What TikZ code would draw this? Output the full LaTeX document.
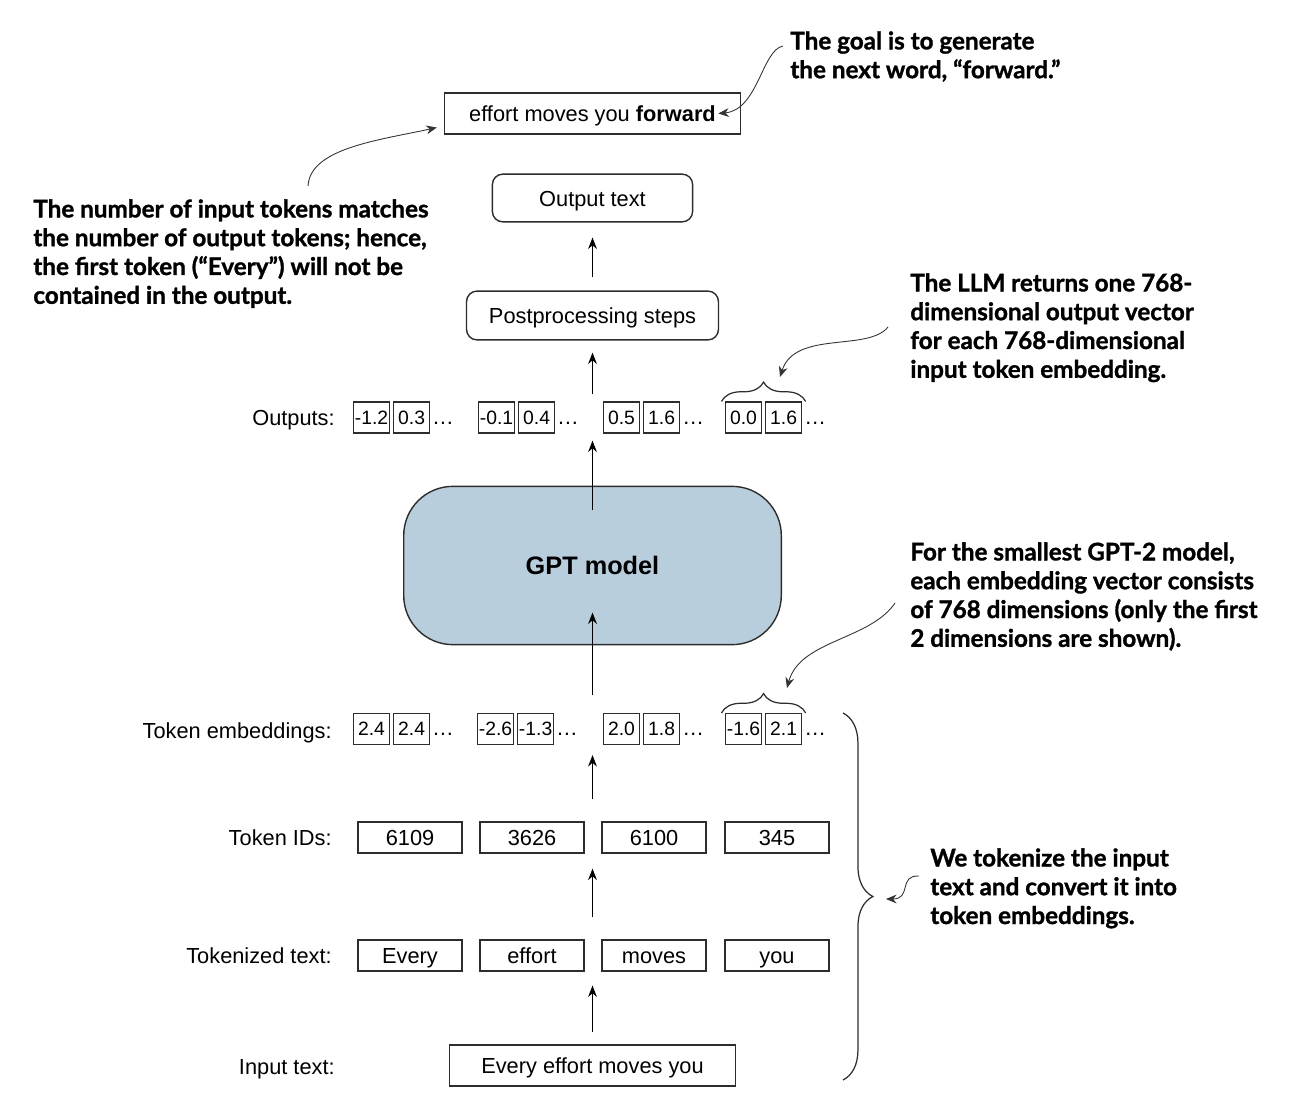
\documentclass[tikz,border=0pt]{standalone}
\usepackage{fontspec}
\setmainfont{Liberation Sans}
\newfontfamily\notefont{Lato}[BoldFeatures={FakeBold=1.2}]
\usetikzlibrary{positioning, arrows.meta, decorations.pathreplacing}

\definecolor{gptblue}{RGB}{185,206,220}
\definecolor{edge}{RGB}{45,45,45}

\tikzset{
  box/.style={draw=edge, line width=0.8pt, minimum width=59pt, minimum height=17.6pt, inner sep=0pt, text height=10pt, text depth=0.8pt, font=\fontsize{12.4}{15}\selectfont},
  roundbox/.style={box, rounded corners=6pt},
  gptbox/.style={draw=edge, line width=0.8pt, fill=gptblue, rounded corners=28pt, minimum width=214.9pt, minimum height=90.1pt, font=\bfseries\fontsize{14.4}{17}\selectfont},
  cell/.style={draw=edge, line width=0.7pt, minimum width=20.4pt, minimum height=17.6pt, inner sep=0pt, text height=8.6pt, text depth=0.8pt, font=\fontsize{11}{13}\selectfont},
  rowlabel/.style={anchor=east, inner sep=0pt, text height=10pt, text depth=0.8pt, font=\fontsize{12.4}{15}\selectfont},
  note/.style={anchor=north west, align=left, inner sep=0pt, font=\notefont\bfseries\fontsize{13.8}{16.4}\selectfont},
  flow/.style={-{Stealth[length=6.5pt, width=5pt]}, line width=0.8pt},
  pointer/.style={-{Stealth[length=6pt, width=5pt]}, line width=0.5pt, black!80},
  smallbrace/.style={decorate, decoration={brace, amplitude=11pt}, line width=0.7pt, edge},
  bigbrace/.style={decorate, decoration={brace, amplitude=17pt}, line width=0.7pt, edge},
}

\begin{document}
\begin{tikzpicture}[x=0.02cm, y=-0.02cm]
  \useasboundingbox[fill=white] (0,0) rectangle (1300,1108);

  % main column, bottom to top
  \node[box, minimum width=162.7pt, minimum height=23.2pt] (input) at (592.5,1065.5) {Every effort moves you};

  % tokens and their IDs
  \foreach \w/\n/\x [count=\i] in {Every/6109/410, effort/3626/532, moves/6100/654, you/345/777} {
    \node[box] (w\i) at (\x,955.5) {\w};
    \node[box] (id\i) at (\x,837.5) {\n};
  }

  % embedding vectors (first 2 of 768 dims)
  \foreach \a/\b/\x [count=\i] in {2.4/2.4/353, -2.6/-1.3/477, 2.0/1.8/603, -1.6/2.1/725} {
    \node[cell, anchor=west] (e\i a) at (\x,729) {\a};
    \node[cell, right=1.7pt of e\i a] (e\i b) {\b};
    \node[anchor=base west, inner sep=1pt, font=\fontsize{12.4}{15}\selectfont] (e\i d) at (e\i b.base east) {\dots};
  }

  \node[gptbox] (gpt) at (592.5,565.5) {GPT model};

  % output vectors
  \foreach \a/\b/\x [count=\i] in {-1.2/0.3/353, -0.1/0.4/478, 0.5/1.6/603, 0.0/1.6/725} {
    \node[cell, anchor=west] (o\i a) at (\x,417.5) {\a};
    \node[cell, right=1.7pt of o\i a] (o\i b) {\b};
    \node[anchor=base west, inner sep=1pt, font=\fontsize{12.4}{15}\selectfont] (o\i d) at (o\i b.base east) {\dots};
  }

  \node[roundbox, minimum width=143.4pt, minimum height=27.8pt] (post) at (592.5,315.5) {Postprocessing steps};
  \node[roundbox, minimum width=114pt, minimum height=27.2pt] (outtext) at (592.5,198) {Output text};
  \node[box, minimum width=168.4pt, minimum height=23.2pt] (target) at (592.5,113.5) {effort moves you \textbf{forward}};

  % row labels
  \node[rowlabel] (lin) at (335,1066) {Input text:};
  \node[rowlabel] (ltok) at (332,955.5) {Tokenized text:};
  \node[rowlabel] (lid) at (332,837.5) {Token IDs:};
  \node[rowlabel] (lemb) at (332,730) {Token embeddings:};
  \node[rowlabel] (lout) at (335,417.5) {Outputs:};

  % flow arrows
  \draw[flow, shorten <=6.8pt, shorten >=7.9pt] (input.north) -- (input.north |- w1.south);
  \draw[flow, shorten <=12.5pt, shorten >=8.5pt] (input.north |- w1.north) -- (input.north |- id1.south);
  \draw[flow, shorten <=12.5pt, shorten >=5.7pt] (input.north |- id1.north) -- (input.north |- e1a.south);
  \draw[flow, shorten <=10pt, shorten >=-18.7pt] (gpt.south |- e1a.north) -- (gpt.south);
  \draw[flow, shorten <=-13.6pt, shorten >=4pt] (gpt.north) -- (gpt.north |- o1a.south);
  \draw[flow, shorten <=4pt, shorten >=6.8pt] (gpt.north |- o1a.north) -- (post.south);
  \draw[flow, shorten <=7.4pt, shorten >=8.5pt] (post.north) -- (outtext.south);

  % braces
  \draw[smallbrace] ([xshift=-2pt]o4a.north west) -- ([xshift=2pt]o4b.north east);
  \draw[smallbrace] ([xshift=-2pt]e4a.north west) -- ([xshift=2pt]e4b.north east);
  \coordinate (bracetop) at (843,713);
  \coordinate (bracebot) at (843,1080);
  \draw[bigbrace] (bracetop) -- (bracebot);

  % notes
  \node[note] (goalnote) at (790,31) {The goal is to generate\\the next word, “forward.”};
  \node[note] (matchnote) at (33,199) {The number of input tokens matches\\the number of output tokens; hence,\\the first token (“Every”) will not be\\contained in the output.};
  \node[note] (llmnote) at (910,273) {The LLM returns one 768-\\dimensional output vector\\for each 768-dimensional\\input token embedding.};
  \node[note] (dimnote) at (910,542) {For the smallest GPT-2 model,\\each embedding vector consists\\of 768 dimensions (only the first\\2 dimensions are shown).};
  \node[note] (toknote) at (930,848) {We tokenize the input\\text and convert it into\\token embeddings.};

  % note pointers
  \coordinate (goalfrom) at (783,46);
  \coordinate (matchfrom) at (308,186);
  \coordinate (llmfrom) at (888,327);
  \coordinate (llmto) at (780,377);
  \coordinate (dimfrom) at (895,603);
  \coordinate (dimto) at (787,688);
  \coordinate (tokfrom) at (919,876);
  \coordinate (tokto) at (886,899);
  \draw[pointer] (goalfrom) .. controls (762,50) and (758,110) .. ([xshift=-13pt]target.east);
  \draw[pointer] (matchfrom) .. controls (310,148) and (380,140) .. ([shift={(-4pt,4pt)}]target.south west);
  \draw[pointer] (llmfrom) .. controls (868,352) and (795,330) .. (llmto);
  \draw[pointer] (dimfrom) .. controls (870,640) and (800,640) .. (dimto);
  \draw[pointer] (tokfrom) .. controls (898,875) and (912,899) .. (tokto);
\end{tikzpicture}
\end{document}
